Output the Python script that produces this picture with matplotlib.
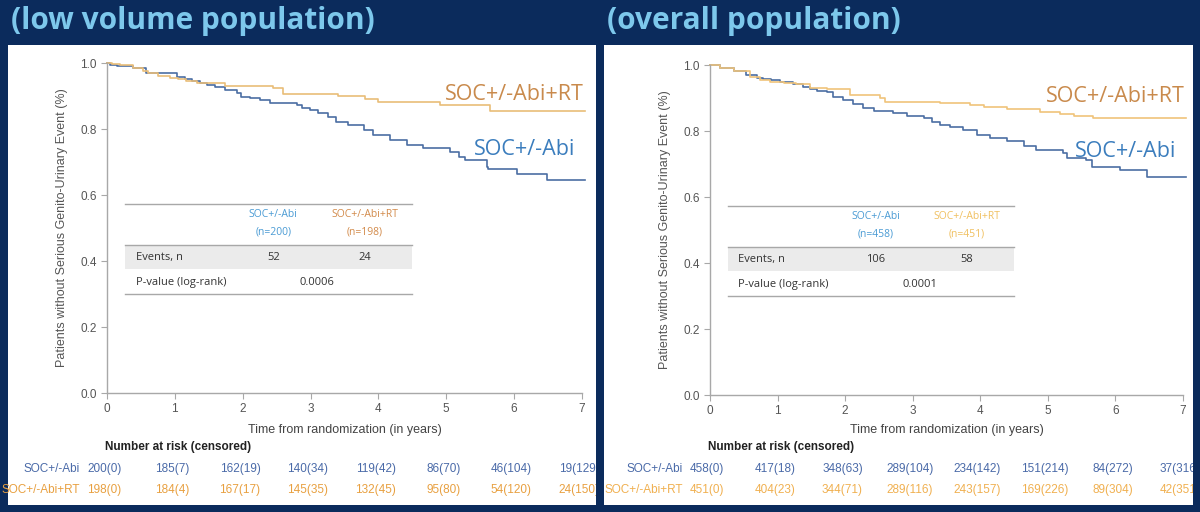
import matplotlib
matplotlib.use('Agg')
import matplotlib.pyplot as plt
from matplotlib.patches import Rectangle
from matplotlib.transforms import Bbox, TransformedBbox, blended_transform_factory

# ---- data ----
years = [0, 1, 2, 3, 4, 5, 6, 7]

# low volume population
left_abi_t = [0, 0.05, 0.15, 0.38, 0.58, 1.03, 1.15, 1.25, 1.37, 1.47, 1.59, 1.74, 1.91, 1.98,
              2.11, 2.25, 2.40, 2.80, 2.87, 2.99, 3.11, 3.25, 3.38, 3.55, 3.78, 3.92, 4.17,
              4.42, 4.66, 5.05, 5.18, 5.28, 5.60, 5.62, 6.04, 6.48, 7.05]
left_abi_s = [1.0, 0.995, 0.991, 0.984, 0.969, 0.959, 0.952, 0.946, 0.940, 0.933, 0.928, 0.918,
              0.908, 0.898, 0.893, 0.888, 0.880, 0.873, 0.863, 0.858, 0.848, 0.835, 0.822, 0.812,
              0.797, 0.782, 0.767, 0.752, 0.742, 0.731, 0.714, 0.706, 0.686, 0.678, 0.664, 0.645,
              0.645]
left_rt_t = [0, 0.08, 0.19, 0.38, 0.53, 0.60, 0.75, 0.93, 1.05, 1.17, 1.32, 1.47, 1.74, 2.45,
             2.60, 3.41, 3.80, 4.00, 4.91, 5.64, 7.05]
left_rt_s = [1.0, 0.997, 0.994, 0.986, 0.976, 0.969, 0.962, 0.956, 0.952, 0.945, 0.940, 0.938,
             0.931, 0.923, 0.906, 0.899, 0.890, 0.881, 0.873, 0.856, 0.856]
left_n = [200, 198]
left_events = [52, 24]
left_p = '0.0006'
left_abi_risk = [200, 185, 162, 140, 119, 86, 46, 19]
left_abi_cens = [0, 7, 19, 34, 42, 70, 104, 129]
left_rt_risk = [198, 184, 167, 145, 132, 95, 54, 24]
left_rt_cens = [0, 4, 17, 35, 45, 80, 120, 150]

# overall population
right_abi_t = [0, 0.15, 0.35, 0.54, 0.69, 0.79, 0.91, 1.04, 1.23, 1.38, 1.48, 1.58, 1.73, 1.82,
               1.97, 2.12, 2.27, 2.42, 2.71, 2.91, 3.16, 3.28, 3.40, 3.55, 3.75, 3.95, 4.14,
               4.39, 4.64, 4.83, 5.23, 5.28, 5.57, 5.65, 6.07, 6.46, 7.05]
right_abi_s = [1.0, 0.992, 0.982, 0.970, 0.960, 0.958, 0.955, 0.948, 0.942, 0.934, 0.927, 0.921,
               0.917, 0.904, 0.894, 0.881, 0.871, 0.861, 0.854, 0.846, 0.838, 0.828, 0.818, 0.811,
               0.803, 0.788, 0.778, 0.770, 0.755, 0.742, 0.732, 0.717, 0.712, 0.692, 0.682, 0.662,
               0.662]
right_rt_t = [0, 0.15, 0.35, 0.59, 0.74, 0.89, 1.09, 1.28, 1.48, 1.73, 2.07, 2.52, 2.59, 3.40,
              3.85, 4.05, 4.39, 4.88, 5.18, 5.38, 5.67, 7.05]
right_rt_s = [1.0, 0.992, 0.982, 0.965, 0.955, 0.948, 0.945, 0.942, 0.931, 0.926, 0.909, 0.899,
              0.888, 0.884, 0.878, 0.872, 0.866, 0.859, 0.852, 0.845, 0.838, 0.838]
right_n = [458, 451]
right_events = [106, 58]
right_p = '0.0001'
right_abi_risk = [458, 417, 348, 289, 234, 151, 84, 37]
right_abi_cens = [0, 18, 63, 104, 142, 214, 272, 316]
right_rt_risk = [451, 404, 344, 289, 243, 169, 89, 42]
right_rt_cens = [0, 23, 71, 116, 157, 226, 304, 351]

# ---- styling ----
W, H = 1200, 512
bg = '#0b2b5c'
title_col = '#7dc8ec'
blue = '#4b6ea3'
blue_lab = '#3b7dbd'
blue_hdr = '#4a9bd4'
orange_lab = '#c98a4c'
grey_txt = '#555555'
spine_col = '#a8a8a8'

fig = plt.figure(figsize=(W / 100, H / 100), dpi=100, facecolor=bg)


def fx(px):
    return px / W


def fy(py):
    return 1 - py / H


def draw_panel(title, panel_x, ax_x0, ax_x7, ax_y0, ax_y1,
               abi_t, abi_s, rt_t, rt_s, n, events, pval,
               abi_risk, abi_cens, rt_risk, rt_cens,
               rt_line, rt_hdr, rt_risk_col):
    # white slide panel
    px0, px1 = panel_x
    panel = Rectangle((fx(px0), fy(505)), fx(px1 - px0), (505 - 45) / H,
                      transform=fig.transFigure, facecolor='white', edgecolor='none', zorder=-1)
    fig.patches.append(panel)
    fig.text(fx(px0 + 3), fy(21), title, color=title_col, fontsize=21.5, fontweight='bold',
             family='Open Sans', va='center', ha='left')

    pxyr = (ax_x7 - ax_x0) / 7.0
    xmax = (px1 - ax_x0) / pxyr
    ax = fig.add_axes([fx(ax_x0), fy(ax_y0), fx(xmax * pxyr), (ax_y0 - ax_y1) / H])
    ax.set_facecolor('none')
    ax.set_xlim(0, xmax)
    ax.set_ylim(0, 1.0)

    ax.step(abi_t, abi_s, where='post', color=blue, lw=1.2, clip_on=False)
    ax.step(rt_t, rt_s, where='post', color=rt_line, lw=1.2, clip_on=False)

    for s in ['top', 'right']:
        ax.spines[s].set_visible(False)
    for s in ['left', 'bottom']:
        ax.spines[s].set_color(spine_col)
        ax.spines[s].set_linewidth(1.0)
    ax.spines['bottom'].set_bounds(0, 7)
    ax.set_xticks(years)
    ax.set_yticks([0.0, 0.2, 0.4, 0.6, 0.8, 1.0])
    ax.set_yticklabels(['0.0', '0.2', '0.4', '0.6', '0.8', '1.0'])
    ax.tick_params(colors=spine_col, labelcolor=grey_txt, labelsize=8.5, length=4, direction='out')
    for lab in ax.get_xticklabels() + ax.get_yticklabels():
        lab.set_family('Liberation Sans')
    ax.set_ylabel('Patients without Serious Genito-Urinary Event (%)', fontsize=9,
                  color=grey_txt, family='Liberation Sans', labelpad=9)

    tr = blended_transform_factory(ax.transData, fig.transFigure)
    ax.text(3.5, fy(430), 'Time from randomization (in years)', transform=tr, ha='center',
            va='center', fontsize=9, color='#444444', family='Liberation Sans')

    # curve labels
    ax.text(6.0, 0.906, 'SOC+/-Abi+RT', color=orange_lab, fontsize=15.5, family='Open Sans',
            ha='center', va='center')
    ax.text(6.15, 0.739, 'SOC+/-Abi', color=blue_lab, fontsize=15.5, family='Open Sans',
            ha='center', va='center')

    # inset table
    tx0, tx1 = 0.27, 4.5
    ax.plot([tx0, tx1], [0.572, 0.572], color=spine_col, lw=1.0)
    ax.plot([tx0, tx1], [0.448, 0.448], color=spine_col, lw=1.0)
    ax.plot([tx0, tx1], [0.300, 0.300], color=spine_col, lw=1.0)
    ax.fill_between([tx0, tx1], 0.376, 0.448, color='#ebebeb', lw=0)
    c1, c2, cp = 2.45, 3.8, 3.1
    hk = dict(fontsize=7.5, family='Open Sans', ha='center', va='center')
    ax.text(c1, 0.540, 'SOC+/-Abi', color=blue_hdr, **hk)
    ax.text(c1, 0.488, '(n=%d)' % n[0], color=blue_hdr, **hk)
    ax.text(c2, 0.540, 'SOC+/-Abi+RT', color=rt_hdr, **hk)
    ax.text(c2, 0.488, '(n=%d)' % n[1], color=rt_hdr, **hk)
    bk = dict(fontsize=8, family='Open Sans', va='center', color='#333333')
    ax.text(tx0 + 0.15, 0.412, 'Events, n', **bk)
    ax.text(c1, 0.412, str(events[0]), ha='center', **bk)
    ax.text(c2, 0.412, str(events[1]), ha='center', **bk)
    ax.text(tx0 + 0.15, 0.335, 'P-value (log-rank)', **bk)
    ax.text(cp, 0.335, pval, ha='center', **bk)

    # number at risk (last column is cut by the panel edge, as on the slide)
    clip = TransformedBbox(Bbox.from_extents(fx(px0), fy(505), fx(px1), fy(45)), fig.transFigure)
    ax.text(1.05, fy(447), 'Number at risk (censored)', transform=tr, ha='center', va='center',
            fontsize=8.5, fontweight='bold', color='#222222', family='Liberation Sans')
    rows = [('SOC+/-Abi', abi_risk, abi_cens, '#4a6aa8', fy(469)),
            ('SOC+/-Abi+RT', rt_risk, rt_cens, rt_risk_col, fy(490))]
    for name, risk, cens, col, yy in rows:
        ax.text(-0.40, yy, name, transform=tr, ha='right', va='center', fontsize=8.5,
                color=col, family='Liberation Sans')
        for k in range(len(years)):
            t = ax.text(years[k] - 0.04, yy, '%d(%d)' % (risk[k], cens[k]), transform=tr,
                        ha='center', va='center', fontsize=8.5, color=col, family='Liberation Sans')
            t.set_clip_box(clip)
            t.set_clip_on(True)
    return ax


draw_panel('(low volume population)', (8, 596), 107, 582, 393, 63,
           left_abi_t, left_abi_s, left_rt_t, left_rt_s, left_n, left_events, left_p,
           left_abi_risk, left_abi_cens, left_rt_risk, left_rt_cens,
           '#e9bd78', '#d28a4a', '#e8a040')
draw_panel('(overall population)', (604, 1193), 710, 1183, 395, 65,
           right_abi_t, right_abi_s, right_rt_t, right_rt_s, right_n, right_events, right_p,
           right_abi_risk, right_abi_cens, right_rt_risk, right_rt_cens,
           '#f0c47a', '#f0c060', '#f0b050')

fig.savefig('out.png', dpi=100, facecolor=bg)
